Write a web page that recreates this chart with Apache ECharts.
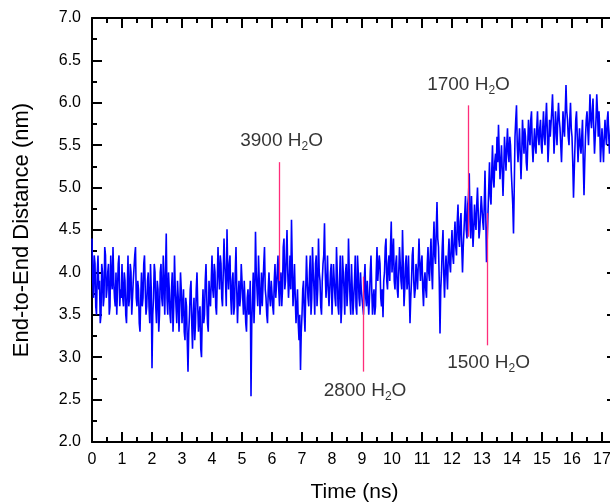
<!DOCTYPE html>
<html>
<head>
<meta charset="utf-8">
<script src="https://cdn.jsdelivr.net/npm/echarts@6/dist/echarts.min.js"></script>
<style>
html,body{margin:0;padding:0;background:#fff;}
#chart{width:610px;height:504px;}
</style>
</head>
<body>
<div id="chart"></div>
<script>
// Sampling of the trace (ns)
const timeStart = 0;
const timeStep = 0.025;

// End-to-end distance (nm), one value per 0.025 ns (one row = 0.5 ns)
const distance = [
  4.4, 3.9, 3.7, 4.2, 4.1, 3.6, 3.5, 4.0, 4.2, 3.8, 3.9, 3.4, 3.5, 4.1, 4.0, 3.6, 3.7, 4.3, 4.2, 3.7,
  3.8, 4.0, 4.1, 3.5, 3.6, 4.2, 3.9, 3.8, 4.3, 3.9, 3.7, 3.6, 4.0, 3.5, 3.5, 4.1, 4.2, 3.6, 3.8, 3.7,
  4.1, 3.7, 3.6, 4.0, 3.9, 3.5, 3.4, 3.8, 4.2, 3.6, 3.7, 4.1, 4.0, 3.5, 3.5, 3.9, 3.9, 4.2, 4.3, 3.7,
  3.6, 3.9, 3.8, 3.4, 3.3, 3.7, 4.0, 3.6, 3.7, 4.1, 4.2, 3.8, 3.5, 3.6, 3.9, 4.0, 3.6, 3.4, 4.1, 3.8,
  2.87, 3.5, 3.7, 4.1, 4.0, 3.6, 3.4, 3.9, 3.8, 3.3, 3.5, 4.0, 4.1, 3.7, 3.6, 4.2, 3.9, 3.5, 4.0, 4.46,
  3.7, 3.5, 4.0, 3.8, 3.5, 3.4, 3.8, 4.0, 3.3, 3.6, 4.2, 3.8, 3.6, 3.4, 3.9, 3.7, 3.3, 3.6, 4.0, 3.8,
  3.4, 3.6, 3.8, 3.3, 3.2, 3.7, 3.6, 3.2, 2.83, 3.3, 3.5, 3.8, 3.9, 3.4, 3.1, 3.5, 3.7, 3.2, 3.4, 3.8,
  4.0, 3.6, 3.3, 3.5, 3.6, 3.1, 3.0, 3.5, 3.8, 3.4, 3.5, 3.9, 4.1, 3.7, 3.4, 3.3, 3.9, 3.7, 3.6, 3.9,
  4.2, 3.8, 3.7, 4.1, 4.0, 3.6, 3.5, 3.9, 4.3, 4.0, 3.8, 4.2, 4.1, 3.7, 3.6, 4.0, 4.4, 4.1, 3.9, 3.6,
  4.51, 4.0, 3.8, 4.1, 4.2, 3.7, 3.5, 3.9, 4.0, 3.5, 3.6, 4.0, 4.3, 3.8, 3.4, 3.7, 3.9, 3.6, 3.7, 4.1,
  4.1, 3.7, 3.5, 3.9, 3.9, 3.4, 3.3, 3.7, 3.8, 3.5, 3.6, 3.9, 2.54, 3.4, 3.7, 4.0, 3.4, 3.7, 4.48, 4.0,
  3.8, 3.6, 4.2, 3.9, 3.5, 3.7, 4.0, 3.6, 3.6, 4.1, 4.3, 3.8, 3.7, 3.5, 3.4, 3.8, 4.0, 3.7, 3.6, 3.9,
  3.9, 3.6, 3.5, 3.9, 4.1, 3.7, 3.7, 4.0, 4.2, 3.8, 3.6, 3.9, 4.0, 3.6, 3.8, 4.3, 4.4, 3.8, 3.9, 4.2,
  4.5, 4.0, 3.7, 3.9, 4.2, 3.8, 4.62, 4.1, 3.6, 3.8, 4.1, 3.7, 3.4, 3.6, 3.8, 3.4, 3.2, 3.5, 2.85, 3.3,
  3.5, 3.8, 3.9, 3.5, 3.3, 3.8, 4.2, 3.9, 3.7, 3.6, 4.0, 4.2, 3.5, 3.7, 4.3, 4.0, 3.8, 3.5, 4.1, 4.2,
  3.6, 3.8, 4.4, 4.0, 3.9, 3.6, 3.5, 3.9, 4.1, 4.2, 4.58, 4.0, 3.7, 3.9, 4.2, 3.8, 3.6, 3.8, 4.0, 4.1,
  3.5, 3.8, 4.1, 3.9, 3.7, 3.6, 4.3, 4.0, 3.6, 3.5, 3.9, 4.2, 3.4, 3.6, 4.2, 4.0, 3.8, 3.5, 4.0, 4.1,
  3.6, 3.8, 4.4, 4.0, 3.7, 3.5, 4.1, 3.8, 3.5, 3.7, 3.9, 4.2, 3.6, 3.5, 4.2, 4.0, 3.7, 3.6, 4.0, 3.8,
  3.8, 3.6, 3.5, 3.9, 4.1, 3.7, 3.6, 3.9, 3.9, 3.5, 3.7, 4.0, 4.2, 3.8, 3.5, 3.7, 3.8, 3.5, 3.6, 4.0,
  4.3, 3.9, 3.9, 4.2, 4.1, 3.7, 3.6, 3.8, 3.47, 3.9, 4.0, 4.3, 4.4, 3.9, 3.8, 4.1, 4.2, 3.9, 4.3, 4.6,
  4.0, 4.2, 4.4, 3.9, 3.8, 4.1, 4.2, 3.8, 3.7, 4.0, 4.3, 4.1, 3.9, 3.8, 4.5, 4.1, 3.6, 3.8, 4.1, 4.2,
  3.8, 3.9, 4.2, 3.8, 3.4, 3.7, 3.9, 4.2, 4.3, 3.9, 3.7, 3.8, 4.1, 4.0, 3.8, 4.1, 4.4, 4.1, 3.9, 4.1,
  4.2, 3.8, 3.6, 3.9, 4.0, 3.8, 3.7, 4.1, 4.3, 4.0, 3.9, 4.2, 4.4, 4.0, 3.8, 4.3, 4.6, 4.2, 4.1, 4.5,
  4.83, 4.4, 4.3, 3.9, 3.28, 3.8, 4.0, 4.3, 4.5, 4.0, 3.7, 4.0, 4.2, 4.0, 3.8, 4.2, 4.4, 4.1, 4.0, 4.3,
  4.5, 4.2, 4.1, 4.4, 4.6, 4.3, 4.2, 4.6, 4.8, 4.4, 4.3, 4.6, 4.7, 4.3, 4.0, 4.3, 4.5, 4.7, 4.9, 4.5,
  4.4, 4.8, 4.9, 5.17, 4.6, 4.4, 4.9, 4.6, 4.3, 4.5, 4.8, 4.6, 4.5, 4.8, 5.0, 4.7, 4.4, 4.5, 4.7, 4.9,
  4.9, 4.6, 4.5, 4.8, 5.2, 4.7, 4.12, 4.4, 4.7, 5.0, 5.3, 4.9, 4.8, 5.2, 5.5, 5.1, 5.0, 5.3, 5.4, 5.2,
  5.6, 5.3, 5.74, 5.4, 5.1, 5.3, 5.5, 5.2, 4.9, 5.2, 5.6, 5.4, 5.2, 5.5, 5.7, 5.4, 5.3, 5.6, 5.5, 5.2,
  5.0, 4.8, 4.46, 5.0, 5.6, 5.8, 5.97, 5.5, 5.3, 5.5, 5.7, 5.4, 5.1, 5.4, 5.8, 5.6, 5.4, 5.7, 5.6, 5.3,
  5.2, 5.5, 5.8, 5.6, 5.5, 5.8, 5.9, 5.5, 5.3, 5.5, 5.7, 5.5, 5.4, 5.7, 5.9, 5.6, 5.5, 5.7, 5.8, 5.5,
  5.4, 5.7, 5.9, 5.6, 5.5, 5.8, 6.0, 5.7, 5.3, 5.5, 5.8, 5.6, 5.6, 5.9, 6.1, 5.8, 5.4, 5.6, 5.9, 5.7,
  5.5, 5.8, 6.0, 5.8, 5.7, 5.5, 5.3, 5.6, 5.9, 5.7, 5.6, 5.9, 6.21, 5.9, 5.8, 5.6, 5.5, 5.8, 6.0, 5.7,
  5.6, 5.3, 4.88, 5.2, 5.5, 5.8, 5.9, 5.6, 5.3, 5.5, 5.7, 5.5, 5.4, 5.6, 5.8, 5.3, 4.91, 5.3, 5.6, 5.8,
  5.9, 5.7, 5.5, 5.8, 6.1, 5.8, 5.7, 5.9, 6.05, 5.7, 5.4, 5.6, 5.8, 6.1, 5.9, 5.6, 5.9, 5.7, 5.3, 5.5,
  5.7, 5.5, 5.3, 5.6, 5.8, 5.6, 5.5, 5.8, 5.9, 5.6, 5.4, 5.6, 5.8, 5.7, 5.6, 5.9, 6.0, 5.8, 5.7, 5.5, 5.6
];

// Annotations: number of water molecules at given times
const annCount = ['3900', '2800', '1700', '1500'];
const annTime = [6.25, 9.05, 12.53, 13.17];
const annLineTop = [5.30, 3.95, 5.97, 4.70];
const annLineBottom = [3.90, 2.83, 4.42, 3.14];
const annLabelX = [6.32, 9.10, 12.55, 13.22];
const annLabelY = [5.55, 2.60, 6.21, 2.93];

// Axis ticks
const xMin = 0, xMax = 17.5, xStep = 1;
const yMin = 2, yMax = 7, yStep = 0.5;

const seriesData = distance.map((v, i) => [+(timeStart + i * timeStep).toFixed(3), v]);

const FONT = 'Liberation Sans, Arial, sans-serif';
const axisLine = { show: true, onZero: false, lineStyle: { color: '#000', width: 2 } };
const axisTick = { show: true, inside: true, length: 10, lineStyle: { color: '#000', width: 2 } };
const minorTick = { show: true, splitNumber: 2, length: 5, lineStyle: { color: '#000', width: 2 } };

const chart = echarts.init(document.getElementById('chart'), null, { renderer: 'canvas' });
chart.setOption({
  backgroundColor: '#fff',
  animation: false,
  grid: { left: 92, top: 18, right: -7, bottom: 62, outerBoundsMode: 'none', containLabel: false },
  xAxis: [
    {
      type: 'value', min: xMin, max: xMax, interval: xStep, position: 'bottom',
      name: 'Time (ns)', nameLocation: 'middle', nameGap: 40,
      nameTextStyle: { fontFamily: FONT, fontSize: 21, color: '#000' },
      axisLine, axisTick, minorTick,
      axisLabel: { fontFamily: FONT, fontSize: 16, color: '#000', margin: 10, showMaxLabel: false },
      splitLine: { show: false }
    },
    {
      type: 'value', min: xMin, max: xMax, interval: xStep, position: 'top',
      axisLine, axisTick, minorTick,
      axisLabel: { show: false }, splitLine: { show: false }
    }
  ],
  yAxis: [
    {
      type: 'value', min: yMin, max: yMax, interval: yStep, position: 'left',
      name: 'End-to-End Distance (nm)', nameLocation: 'middle', nameGap: 59,
      nameTextStyle: { fontFamily: FONT, fontSize: 22, color: '#000' },
      axisLine, axisTick, minorTick,
      axisLabel: { fontFamily: FONT, fontSize: 16, color: '#000', margin: 11,
                   formatter: v => v.toFixed(1) },
      splitLine: { show: false }
    },
    {
      type: 'value', min: yMin, max: yMax, interval: yStep, position: 'right',
      axisLine, axisTick, minorTick,
      axisLabel: { show: false }, splitLine: { show: false }
    }
  ],
  series: [
    {
      type: 'line',
      data: seriesData,
      showSymbol: false,
      symbol: 'none',
      lineStyle: { color: '#0000ff', width: 1.6 },
      z: 2,
      markLine: {
        silent: true,
        symbol: ['none', 'none'],
        label: { show: false },
        emphasis: { disabled: true },
        lineStyle: { color: '#ff2d7a', width: 1.3, type: 'solid', opacity: 1 },
        data: annTime.map((t, i) => [
          { coord: [t, annLineTop[i]] },
          { coord: [t, annLineBottom[i]] }
        ])
      }
    },
    {
      type: 'scatter',
      symbolSize: 0,
      silent: true,
      z: 5,
      data: annCount.map((c, i) => ({ value: [annLabelX[i], annLabelY[i]], name: c })),
      label: {
        show: true,
        position: 'inside',
        formatter: p => '{a|' + p.name + ' H}{s|2}{a|O}',
        rich: {
          a: { fontFamily: FONT, fontSize: 19, color: '#000', lineHeight: 24 },
          s: { fontFamily: FONT, fontSize: 12, color: '#000', lineHeight: 6, verticalAlign: 'bottom' }
        }
      }
    }
  ]
});
</script>
</body>
</html>
